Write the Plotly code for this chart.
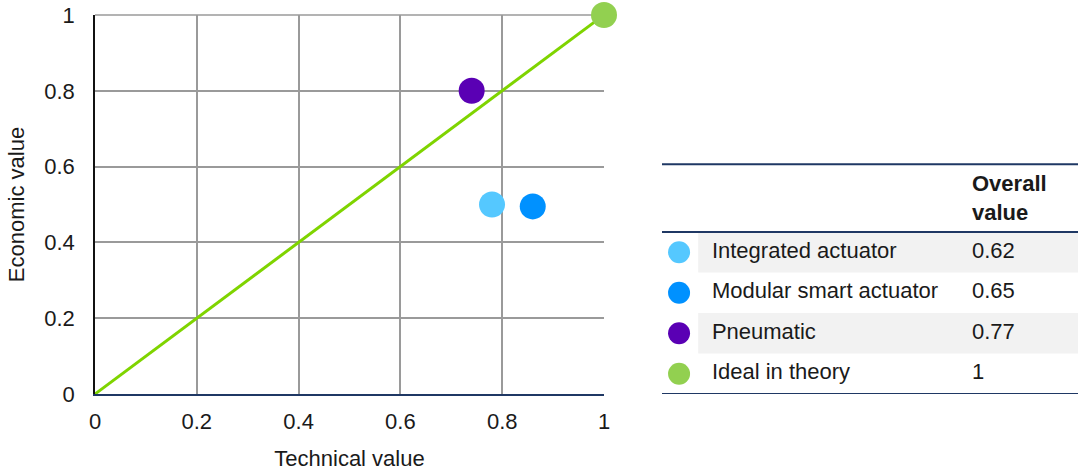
import plotly.graph_objects as go

# scatter data
names = ["Integrated actuator", "Modular smart actuator", "Pneumatic", "Ideal in theory"]
technical = [0.78, 0.86, 0.74, 1.0]
economic = [0.50, 0.495, 0.80, 1.0]
overall = ["0.62", "0.65", "0.77", "1"]
colors = ["#55c8ff", "#0091ff", "#5a00b4", "#92d050"]

diag_x = [0, 1]
diag_y = [0, 1]

ticks = [0, 0.2, 0.4, 0.6, 0.8, 1]

FONT = "Liberation Sans, Arial, sans-serif"
TEXT = "#1a1a1a"
NAVY = "#1f3864"
GRID = "#9a9a9a"

# table rows counted from the bottom line, one unit per row
row_y = [3.5, 2.5, 1.5, 0.5]
banded = [True, False, True, False]

W, H = 1080, 471
ml, mr, mt, mb = 95, 2, 15, 77
pw = W - ml - mr
chart_right = 509 / pw

fig = go.Figure()

# plotly drops the grid line at the very top edge, so draw it as a border
fig.add_shape(type="line", xref="paper", yref="paper", x0=0, x1=chart_right, y0=1, y1=1,
              line=dict(color=GRID, width=1.5), layer="below")

fig.add_trace(go.Scatter(
    x=diag_x, y=diag_y, mode="lines",
    line=dict(color="#7fd400", width=3),
    hoverinfo="skip", showlegend=False,
))
fig.add_trace(go.Scatter(
    x=technical, y=economic, mode="markers",
    marker=dict(size=26, color=colors, line=dict(width=0)),
    text=names, cliponaxis=False, showlegend=False,
))

# table on its own axes
for y, band in zip(row_y, banded):
    if band:
        fig.add_shape(type="rect", xref="x2", yref="y2",
                      x0=0.087, x1=1.0, y0=y - 0.5, y1=y + 0.5,
                      fillcolor="#f2f2f2", line=dict(width=0), layer="below")

for y in [0, 4, 5.67]:
    fig.add_shape(type="line", xref="x2", yref="y2", x0=0, x1=1, y0=y, y1=y,
                  line=dict(color=NAVY, width=2))

fig.add_trace(go.Scatter(
    x=[0.041] * len(names), y=row_y, mode="markers",
    marker=dict(size=22, color=colors), xaxis="x2", yaxis="y2",
    hoverinfo="skip", showlegend=False,
))
fig.add_trace(go.Scatter(
    x=[0.12] * len(names), y=row_y, mode="text", text=names,
    textposition="middle right", textfont=dict(size=22, color=TEXT, family=FONT),
    xaxis="x2", yaxis="y2", hoverinfo="skip", showlegend=False,
))
fig.add_trace(go.Scatter(
    x=[0.745] * len(names), y=row_y, mode="text", text=overall,
    textposition="middle right", textfont=dict(size=22, color=TEXT, family=FONT),
    xaxis="x2", yaxis="y2", hoverinfo="skip", showlegend=False,
))
fig.add_annotation(xref="x2", yref="y2", x=0.74, y=4.83, text="<b>Overall<br>value</b>",
                   showarrow=False, xanchor="left", yanchor="middle", align="left",
                   font=dict(size=22, color=TEXT, family=FONT))

fig.update_layout(
    width=W, height=H,
    margin=dict(l=ml, r=mr, t=mt, b=mb),
    plot_bgcolor="rgba(0,0,0,0)", paper_bgcolor="white",
    font=dict(family=FONT, size=22, color=TEXT),
    xaxis=dict(
        domain=[0, chart_right], range=[0, 1], tickvals=ticks, automargin=False,
        showgrid=True, gridcolor=GRID, gridwidth=1.5,
        zeroline=False, showline=True, linecolor=NAVY, linewidth=2,
        ticks="", ticklabelstandoff=7, tickfont=dict(size=22),
        title=dict(text="Technical value", standoff=17, font=dict(size=22)),
    ),
    yaxis=dict(
        range=[0, 1], tickvals=ticks, automargin=False,
        showgrid=True, gridcolor=GRID, gridwidth=1.5,
        zeroline=False, showline=True, linecolor="#111111", linewidth=1.5,
        ticks="", ticklabelstandoff=14, tickfont=dict(size=22),
        title=dict(text="Economic value", standoff=14, font=dict(size=22)),
    ),
    xaxis2=dict(domain=[567 / pw, 1.0], range=[0, 1], visible=False,
                fixedrange=True, anchor="y2", automargin=False),
    yaxis2=dict(domain=[0, 1], range=[0, 379 / 40.5], visible=False,
                fixedrange=True, anchor="x2", automargin=False),
)

# drop the default 8px body margin so the figure sits at the page corner
fig.write_html("out.html", config={"displayModeBar": False},
               post_script="document.body.style.margin='0';")
